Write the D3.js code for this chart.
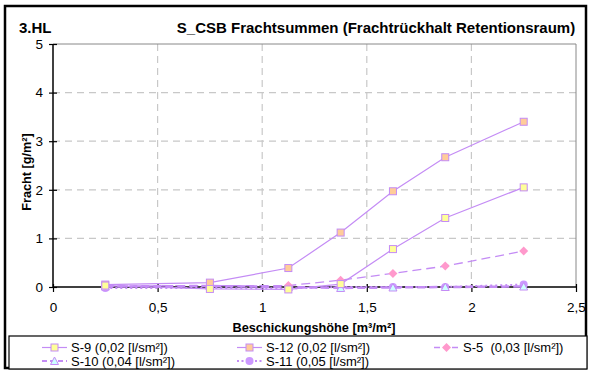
<!DOCTYPE html>
<html><head><meta charset="utf-8">
<script src="https://cdn.jsdelivr.net/npm/d3@7"></script>
<style>
body{margin:0;background:#fff;}
svg{font-family:"Liberation Sans",Arial,sans-serif;}
</style></head>
<body><svg id="c" width="591" height="371"></svg>
<script>
const xValues = [0.25, 0.75, 1.125, 1.375, 1.625, 1.875, 2.25];
const s9  = [0.03, -0.04, -0.05, 0.06, 0.78, 1.42, 2.05];
const s12 = [0.05, 0.09, 0.39, 1.12, 1.97, 2.67, 3.40];
const s5  = [0.02, 0.03, 0.03, 0.14, 0.28, 0.43, 0.74];
const s10 = [0.01, 0.02, 0.00, -0.02, -0.01, 0.00, 0.01];
const s11 = [-0.02, -0.02, -0.03, 0.00, 0.00, 0.00, 0.05];
const seriesNames = ["S-9 (0,02 [l/sm²])", "S-12 (0,02 [l/sm²])", "S-5  (0,03 [l/sm²])", "S-10 (0,04 [l/sm²])", "S-11 (0,05 [l/sm²])"];
const xTicks = [0, 0.5, 1, 1.5, 2, 2.5];
const yTicks = [0, 1, 2, 3, 4, 5];

const svg = d3.select("#c");
const L = 53, R = 576, T = 44, B = 287;
const x = d3.scaleLinear().domain([0, 2.5]).range([L, R]);
const y = d3.scaleLinear().domain([0, 5]).range([B, T]);
const fmt = d => String(d).replace(".", ",");
const lineCol = "#c48cf5";

// outer border
svg.append("rect").attr("x", 5).attr("y", 6).attr("width", 581).attr("height", 362)
  .attr("fill", "none").attr("stroke", "#000").attr("stroke-width", 2.5);

// titles
svg.append("text").attr("x", 19).attr("y", 33).attr("font-size", 15).attr("font-weight", "bold").text("3.HL");
svg.append("text").attr("x", 376).attr("y", 33).attr("text-anchor", "middle").attr("font-size", 15).attr("font-weight", "bold")
  .text("S_CSB Frachtsummen (Frachtrückhalt Retentionsraum)");

// grid
const g = svg.append("g");
g.selectAll(".gy").data(yTicks.filter(d => d > 0 && d < 5)).join("line")
  .attr("x1", L).attr("x2", R).attr("y1", d => y(d)).attr("y2", d => y(d))
  .attr("stroke", "#c8c8c8").attr("stroke-width", 1.2).attr("stroke-dasharray", "7,5");
g.selectAll(".gx").data(xTicks.filter(d => d > 0 && d < 2.5)).join("line")
  .attr("y1", T).attr("y2", B).attr("x1", d => x(d)).attr("x2", d => x(d))
  .attr("stroke", "#c8c8c8").attr("stroke-width", 1.2).attr("stroke-dasharray", "7,5");
// plot border top/right
svg.append("path").attr("d", `M${L},${T}H${R}V${B}`).attr("fill", "none").attr("stroke", "#888").attr("stroke-width", 1);

// axes
const yAxis = svg.append("g").attr("transform", `translate(${L},0)`)
  .call(d3.axisLeft(y).tickValues(yTicks).tickFormat(fmt).tickSize(4).tickPadding(6));
const xAxis = svg.append("g").attr("transform", `translate(0,${B})`)
  .call(d3.axisBottom(x).tickValues(xTicks).tickFormat(fmt).tickSize(5).tickPadding(10));
[yAxis, xAxis].forEach(a => {
  a.select(".domain").attr("stroke", "#000").attr("stroke-width", 1.5);
  a.selectAll(".tick line").attr("stroke", "#000").attr("stroke-width", 1.2);
  a.selectAll("text").attr("font-size", 13.5).attr("fill", "#000").attr("font-family", "Liberation Sans, Arial, sans-serif");
});
yAxis.selectAll(".tick line").attr("x2", -4).attr("x1", 4);
xAxis.selectAll(".tick line").attr("y1", -3).attr("y2", 5);
xAxis.select(".domain").attr("d", `M${L},0H${R}`);
yAxis.select(".domain").attr("d", `M0,${T}V${B}`);

// axis titles
svg.append("text").attr("transform", `translate(31,172) rotate(-90)`).attr("text-anchor", "middle")
  .attr("font-size", 12.7).attr("font-weight", "bold").text("Fracht [g/m²]");
svg.append("text").attr("x", 314).attr("y", 332).attr("text-anchor", "middle")
  .attr("font-size", 12.7).attr("font-weight", "bold").text("Beschickungshöhe [m³/m²]");

// series
const series = [
  {vals: s9, dash: null, w: 1.2, marker: "square", fill: "#ffff99"},
  {vals: s12, dash: null, w: 1.2, marker: "square", fill: "#ffcc99"},
  {vals: s5, dash: "9,5", w: 1.3, marker: "diamond", fill: "#ff99cc"},
  {vals: s10, dash: "8,4", w: 2.5, marker: "triangle", fill: "#ccffff"},
  {vals: s11, dash: "2,3", w: 2, marker: "circle", fill: "#cc99ff"}
];
const line = d3.line().x(d => x(d[0])).y(d => y(d[1]));
function drawMarker(sel, type, fill) {
  if (type === "square") {
    sel.append("rect").attr("x", -3.5).attr("y", -3.5).attr("width", 7).attr("height", 7)
      .attr("fill", fill).attr("stroke", lineCol).attr("stroke-width", 1);
  } else if (type === "diamond") {
    sel.append("path").attr("d", "M0,-4.5L4.5,0L0,4.5L-4.5,0Z").attr("fill", fill).attr("stroke", "none");
  } else if (type === "triangle") {
    sel.append("path").attr("d", "M0,-4L4,3.5L-4,3.5Z").attr("fill", fill).attr("stroke", lineCol).attr("stroke-width", 1);
  } else {
    sel.append("circle").attr("r", 4).attr("fill", fill).attr("stroke", "none");
  }
}
series.slice().reverse().forEach(s => {
  const pts = xValues.map((xv, i) => [xv, s.vals[i]]);
  svg.append("path").attr("d", line(pts)).attr("fill", "none").attr("stroke", lineCol)
    .attr("stroke-width", s.w).attr("stroke-dasharray", s.dash);
  pts.forEach(p => {
    const m = svg.append("g").attr("transform", `translate(${x(p[0])},${y(p[1])})`);
    drawMarker(m, s.marker, s.fill);
  });
});

// legend
svg.append("rect").attr("x", 9).attr("y", 336).attr("width", 578).attr("height", 33)
  .attr("fill", "#fff").attr("stroke", "#000").attr("stroke-width", 1.2);
const legPos = [[42, 347.5], [237, 347.5], [434, 347.5], [42, 361], [237, 361]];
series.forEach((s, i) => {
  const [lx, ly] = legPos[i];
  const lg = svg.append("g");
  lg.append("line").attr("x1", lx).attr("x2", lx + 25).attr("y1", ly).attr("y2", ly)
    .attr("stroke", lineCol).attr("stroke-width", Math.min(s.w, 2)).attr("stroke-dasharray", s.dash ? (i === 2 ? "6,3" : i === 3 ? "5,3" : "2,2.5") : null);
  const m = lg.append("g").attr("transform", `translate(${lx + 12.5},${ly})`);
  drawMarker(m, s.marker, s.fill);
  lg.append("text").attr("x", lx + 29).attr("y", ly + 4.5).attr("font-size", 13).attr("xml:space", "preserve")
    .style("white-space", "pre").text(seriesNames[i]);
});
</script></body></html>
